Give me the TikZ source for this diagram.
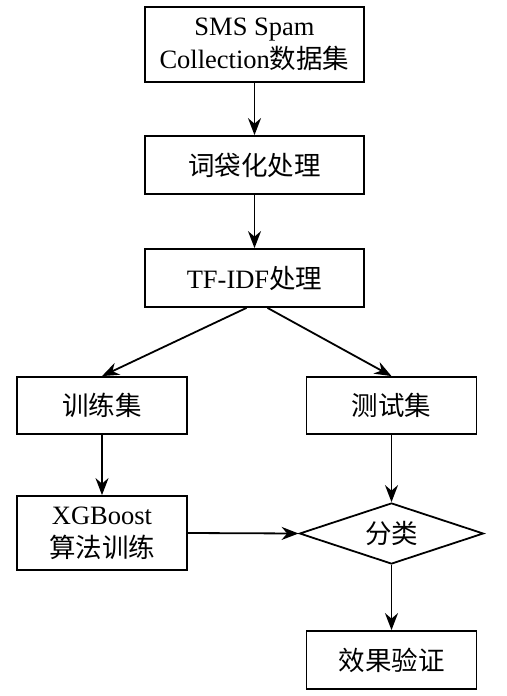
\documentclass[tikz,border=0pt]{standalone}
\usepackage{fontspec}
\setmainfont{Liberation Serif}
\newfontfamily\cjk{Noto Sans CJK SC}
\usetikzlibrary{arrows.meta,shapes.geometric}
\tikzset{
  box/.style={draw,line width=1.8pt,minimum width=219pt,minimum height=58pt,
    inner sep=0pt,align=center,font=\fontsize{26.5}{33}\selectfont},
  smallbox/.style={box,minimum width=170pt},
  decision/.style={draw,line width=1.8pt,diamond,aspect=3.07,inner sep=0pt,
    minimum width=184pt,minimum height=61pt,font=\fontsize{26.5}{33}\selectfont},
  flow/.style={->,line width=1.8pt}
}

\begin{document}
\begin{tikzpicture}[x=1pt,y=-1pt,>={Stealth[length=17pt,width=13pt]}]
  \useasboundingbox (0,0) rectangle (506,696);
  % main column
  \node[box,minimum height=75pt] (data) at (254.5,44.5) {SMS Spam\\Collection{\cjk 数据集}};
  \node[box] (bow) at (254.5,165) {\cjk 词袋化处理};
  \node[box] (tfidf) at (254.5,278) {TF-IDF{\cjk 处理}};
  % split
  \node[smallbox,minimum height=57pt] (train) at (102,405.5) {\cjk 训练集};
  \node[smallbox,minimum height=57pt] (test) at (391.5,405.5) {\cjk 测试集};
  \node[smallbox,minimum height=74pt] (xgb) at (102,533) {XGBoost\\{\cjk 算法训练}};
  \node[decision] (cls) at (391.5,533.5) {\cjk 分类};
  \node[smallbox] (eval) at (391.5,660) {\cjk 效果验证};

  \draw[flow] (data) -- (bow);
  \draw[flow] (bow) -- (tfidf);
  \draw[flow] ([xshift=-8pt]tfidf.south) -- (train.north);
  \draw[flow] ([xshift=13pt]tfidf.south) -- (test.north);
  \draw[flow] (train) -- (xgb);
  \draw[flow] (test) -- (cls.north);
  \draw[flow] (xgb.east) -- (cls.west);
  \draw[flow] (cls.south) -- (eval);
\end{tikzpicture}
\end{document}
